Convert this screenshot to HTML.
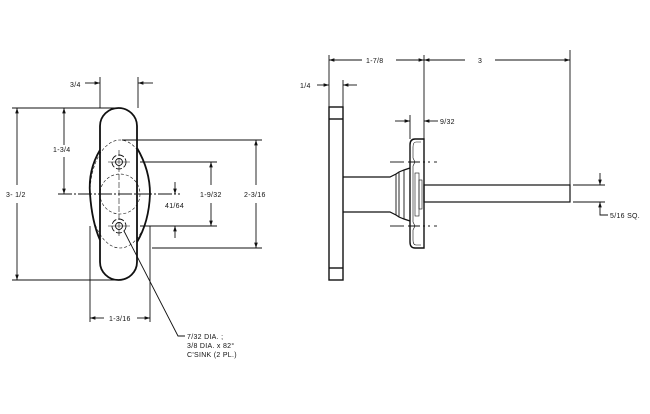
<!DOCTYPE html>
<html><head><meta charset="utf-8"><style>
html,body{margin:0;padding:0;background:#fff;}
svg{display:block;}
text{font-family:"Liberation Sans",sans-serif;font-size:7px;fill:#111;letter-spacing:0.3px;}
</style></head><body>
<svg width="650" height="414" viewBox="0 0 650 414" xmlns="http://www.w3.org/2000/svg">
<defs>
<marker id="a" viewBox="0 0 6 4" refX="6" refY="2" markerWidth="6" markerHeight="4" orient="auto-start-reverse"><path d="M0,0 L6,2 L0,4z" fill="#111"/></marker>
</defs>
<g stroke="#111" fill="none" stroke-width="0.9">
<path d="M100,126 A18.5,18 0 0 1 137,126 L137,262 A18.5,18 0 0 1 100,262 Z" stroke-width="1.8"/>
<path d="M100,150 Q88,170 90,194 Q92,222 100,240" stroke-width="1.8"/>
<path d="M137,148 Q150,170 150,194 Q149,222 137,242" stroke-width="1.8"/>
<ellipse cx="120" cy="194" rx="30" ry="54" stroke-dasharray="3,2" stroke-width="0.6"/>
<circle cx="120" cy="194" r="20" stroke-dasharray="3,2" stroke-width="0.6"/>
<circle cx="119" cy="162" r="7" stroke-dasharray="6,2"/>
<circle cx="119" cy="162" r="3.5"/>
<circle cx="119" cy="226" r="7" stroke-dasharray="6,2"/>
<circle cx="119" cy="226" r="3.5"/>
<line x1="119" y1="150" x2="119" y2="238" stroke-dasharray="6,2" stroke-width="0.6"/>
<line x1="108" y1="162" x2="130" y2="162" stroke-width="0.6"/>
<line x1="108" y1="226" x2="130" y2="226" stroke-width="0.6"/>
<line x1="58" y1="194" x2="180" y2="194" stroke-dasharray="14,2,2,2"/>
<line x1="100" y1="77" x2="100" y2="108"/><line x1="138" y1="77" x2="138" y2="108"/>
<line x1="85" y1="83" x2="100" y2="83" marker-end="url(#a)"/>
<line x1="153" y1="83" x2="138" y2="83" marker-end="url(#a)"/>
<line x1="12" y1="108" x2="118" y2="108"/><line x1="12" y1="280" x2="118" y2="280"/>
<line x1="17" y1="185" x2="17" y2="108" marker-end="url(#a)"/>
<line x1="17" y1="203" x2="17" y2="280" marker-end="url(#a)"/>
<line x1="64" y1="145" x2="64" y2="108" marker-end="url(#a)"/>
<line x1="64" y1="157" x2="64" y2="194" marker-end="url(#a)"/>
<line x1="122" y1="140" x2="262" y2="140"/><line x1="152" y1="248" x2="262" y2="248"/>
<line x1="256" y1="185" x2="256" y2="140" marker-end="url(#a)"/>
<line x1="256" y1="203" x2="256" y2="248" marker-end="url(#a)"/>
<line x1="140" y1="162" x2="217" y2="162"/><line x1="140" y1="226" x2="217" y2="226"/>
<line x1="211" y1="185" x2="211" y2="162" marker-end="url(#a)"/>
<line x1="211" y1="203" x2="211" y2="226" marker-end="url(#a)"/>
<line x1="175" y1="182" x2="175" y2="194" marker-end="url(#a)"/>
<line x1="175" y1="238" x2="175" y2="226" marker-end="url(#a)"/>
<line x1="90" y1="226" x2="90" y2="322"/><line x1="150" y1="226" x2="150" y2="322"/>
<line x1="104" y1="318" x2="90" y2="318" marker-end="url(#a)"/>
<line x1="137" y1="318" x2="150" y2="318" marker-end="url(#a)"/>
<polyline points="124,231 178,336 185,336"/>

<rect x="329" y="107" width="14" height="173" stroke-width="1.4"/>
<line x1="329" y1="119" x2="343" y2="119" stroke-width="1.4"/>
<line x1="329" y1="268" x2="343" y2="268" stroke-width="1.4"/>
<path d="M343,177 L390,177 L396,174 L399,172 L404,170 L410,168" stroke-width="1.2"/>
<path d="M343,212 L390,212 L396,215 L399,217 L404,219 L410,221" stroke-width="1.2"/>
<line x1="396" y1="174" x2="396" y2="215"/>
<line x1="399" y1="172" x2="399" y2="217"/>
<line x1="404" y1="170" x2="404" y2="219"/>
<path d="M424,139 L415,139 Q410,139 410,145 L410,242 Q410,248 415,248 L424,248 Z" stroke-width="1.4"/>
<path d="M421,142 L416,142 Q413,142 413,147 L413,158 L415,162 L413,166 L413,222 L415,226 L413,230 L413,240 Q413,245 416,245 L421,245" stroke-width="0.6"/>
<rect x="415" y="173" width="4" height="43" stroke-width="0.6"/>
<rect x="419" y="180" width="3" height="29" stroke-width="0.6"/>
<rect x="424" y="185" width="146" height="17" stroke-width="1.2"/>
<line x1="390" y1="162" x2="404" y2="162"/><line x1="408" y1="162" x2="430" y2="162" stroke-dasharray="12,3,2,3"/>
<line x1="390" y1="226" x2="404" y2="226"/><line x1="408" y1="226" x2="430" y2="226" stroke-dasharray="12,3,2,3"/>
<line x1="434" y1="162" x2="437" y2="162"/><line x1="434" y1="226" x2="437" y2="226"/>
<line x1="329" y1="55" x2="329" y2="107"/>
<line x1="424" y1="55" x2="424" y2="139"/>
<line x1="570" y1="50" x2="570" y2="185"/>
<line x1="362" y1="60" x2="329" y2="60" marker-end="url(#a)"/>
<line x1="396" y1="60" x2="424" y2="60" marker-end="url(#a)"/>
<line x1="465" y1="60" x2="424" y2="60" marker-end="url(#a)"/>
<line x1="495" y1="60" x2="570" y2="60" marker-end="url(#a)"/>
<line x1="343" y1="80" x2="343" y2="107"/>
<line x1="317" y1="85" x2="329" y2="85" marker-end="url(#a)"/>
<line x1="357" y1="85" x2="343" y2="85" marker-end="url(#a)"/>
<line x1="410" y1="115" x2="410" y2="139"/>
<line x1="395" y1="121" x2="410" y2="121" marker-end="url(#a)"/>
<line x1="438" y1="121" x2="424" y2="121" marker-end="url(#a)"/>
<line x1="573" y1="185" x2="605" y2="185"/><line x1="573" y1="202" x2="605" y2="202"/>
<line x1="600" y1="173" x2="600" y2="185" marker-end="url(#a)"/>
<polyline points="608,215 600,215 600,202" marker-end="url(#a)"/>
</g>
<text x="70" y="87">3/4</text>
<text x="6" y="197">3- 1/2</text>
<text x="53" y="152">1-3/4</text>
<text x="244" y="197">2-3/16</text>
<text x="200" y="197">1-9/32</text>
<text x="165" y="208">41/64</text>
<text x="109" y="321">1-3/16</text>
<text x="187" y="339">7/32 DIA. ;</text>
<text x="187" y="348">3/8 DIA. x 82°</text>
<text x="187" y="357">C'SINK (2 PL.)</text>
<text x="366" y="63">1-7/8</text>
<text x="478" y="63">3</text>
<text x="300" y="88">1/4</text>
<text x="440" y="124">9/32</text>
<text x="610" y="218">5/16 SQ.</text>
</svg>
</body></html>
